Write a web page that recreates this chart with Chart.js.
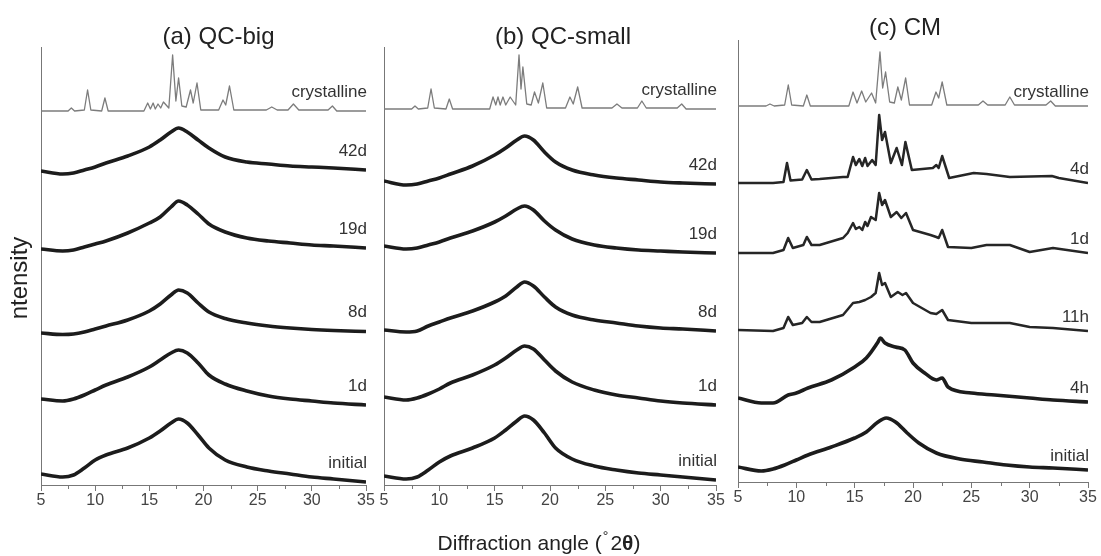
<!DOCTYPE html>
<html>
<head>
<meta charset="utf-8">
<title>XRD patterns</title>
<script src="https://cdn.jsdelivr.net/npm/chart.js@4.4.1/dist/chart.umd.min.js"></script>
<style>
  body { margin: 0; background: #fff; width: 1101px; height: 556px; position: relative; overflow: hidden; }
  canvas { position: absolute; top: 0; }
</style>
</head>
<body>
<canvas id="panel-a" width="376" height="556" style="left:0px"></canvas>
<canvas id="panel-b" width="383" height="556" style="left:343px"></canvas>
<canvas id="panel-c" width="404" height="556" style="left:697px"></canvas>
<script>
// angles (°2θ) where the amorphous humps were read
const anglesHump = [5, 7, 8, 9, 10, 11, 13, 15, 16, 17, 17.7, 18.5, 19.5, 20.5, 22, 24, 26, 28, 30, 32, 35];

// (a) QC-big
const qcBigCrystX = [5, 7.5, 7.8, 8.1, 9.0, 9.3, 9.6, 10.6, 10.9, 11.2, 14.5, 14.85, 15.1, 15.35, 15.55, 15.8, 16.05, 16.3, 16.8, 17.15, 17.45, 17.7, 18.0, 18.4, 18.8, 19.05, 19.4, 19.75, 21.4, 21.8, 22.05, 22.4, 22.8, 25.8, 26.3, 26.8, 27.8, 28.3, 28.8, 31.5, 31.9, 32.3, 35];
const qcBigCrystY = [0, 0, 3, 0, 1, 21, 1, 0, 13, 0, 0, 8, 2, 8, 2, 7, 3, 9, 3, 56, 10, 33, 5, 4, 21, 8, 28, 1, 1, 11, 6, 25, 1, 1, 4, 1, 1, 7, 1, 1, 5, 0, 0];
const qcBig42d = [3, 0, 1, 4, 7, 11, 18, 27, 34, 42, 46, 42, 34, 26, 17, 12, 10, 8, 7, 6, 4];
const qcBig19d = [2, 0, 1, 4, 7, 10, 18, 28, 34, 44, 50, 46, 37, 27, 19, 13, 10, 8, 6, 5, 3];
const qcBig8d = [2, 0.5, 1, 3, 6, 9, 15, 24, 31, 40, 45, 42, 32, 23, 16.5, 12, 9, 7, 5.5, 4.5, 3.5];
const qcBig1d = [6, 4, 6, 10, 15, 20, 28, 38, 45, 52, 55, 52, 42, 30, 21, 14, 9, 6, 4, 2, 0];
const qcBigInitial = [8, 5, 7, 14, 22, 27, 34, 44, 51, 59, 63, 59, 47, 34, 22, 15, 11, 8, 5, 3, 0];
const qcBigOffsets = [374, 311, 234, 150, 80, 3];
const qcBigLabels = ['crystalline', '42d', '19d', '8d', '1d', 'initial'];

// (b) QC-small
const qcSmallCrystX = [5, 7.5, 7.8, 8.1, 8.95, 9.25, 9.55, 10.6, 10.9, 11.2, 14.55, 14.85, 15.1, 15.3, 15.5, 15.75, 16.0, 16.4, 16.9, 17.2, 17.38, 17.55, 17.9, 18.3, 18.6, 18.95, 19.35, 19.7, 21.4, 21.8, 22.1, 22.5, 22.9, 25.6, 26.05, 26.5, 27.9, 28.3, 28.7, 31.5, 31.9, 32.3, 35];
const qcSmallCrystY = [0, 0, 3, 0, 1, 20, 1, 0, 10, 0, 0, 12, 4, 12, 4, 12, 4, 12, 4, 54, 20, 42, 5, 4, 17, 6, 26, 1, 1, 12, 5, 22, 1, 1, 5, 1, 1, 8, 1, 1, 5, 0, 0];
const qcSmall42d = [4, 0, 1, 4, 7, 11, 19, 30, 37, 45, 49, 45, 33, 23, 15, 10, 7, 5, 3, 2, 1];
const qcSmall19d = [7, 4, 5, 8, 11, 15, 22, 31, 37, 44, 47, 43, 32, 23, 14, 8, 5, 3, 2, 1, 0];
const qcSmall8d = [2, 0, 1, 6, 10, 14, 21, 30, 36, 45, 50, 46, 35, 25, 17, 12, 9, 6, 4, 3, 1];
const qcSmall1d = [8, 5, 7, 11, 16, 22, 30, 40, 47, 55, 59, 56, 45, 34, 23, 15, 10, 7, 4, 2, 0];
const qcSmallInitial = [4, 1, 3, 10, 18, 24, 32, 42, 50, 59, 64, 60, 47, 32, 21, 14, 10, 7, 5, 3, 0];
const qcSmallOffsets = [376, 300, 232, 153, 80, 5];
const qcSmallLabels = ['crystalline', '42d', '19d', '8d', '1d', 'initial'];

// (c) CM
const cmCrystX = [5, 7.4, 7.74, 8.1, 9.0, 9.31, 9.6, 10.6, 10.9, 11.2, 14.5, 14.86, 15.2, 15.6, 15.95, 16.45, 16.8, 17.17, 17.4, 17.65, 18.0, 18.4, 18.7, 19.0, 19.37, 19.7, 21.6, 21.97, 22.2, 22.5, 22.9, 25.6, 26.0, 26.4, 27.9, 28.3, 28.7, 31.4, 31.8, 32.2, 35];
const cmCrystY = [0, 0, 2, 0, 1, 21, 1, 0, 11, 0, 0, 14, 3, 15, 4, 13, 3, 54, 18, 34, 4, 3, 19, 6, 28, 1, 1, 14, 8, 24, 1, 1, 5, 1, 1, 9, 1, 1, 5, 0, 0];
const cm4dX = [5, 8, 8.9, 9.2, 9.5, 10.5, 10.9, 11.3, 12, 14, 14.4, 14.86, 15.1, 15.4, 15.65, 15.9, 16.1, 16.5, 16.8, 17.1, 17.35, 17.6, 18.1, 18.6, 19.05, 19.35, 19.9, 21.7, 22.0, 22.2, 22.5, 23.1, 25.2, 26.3, 28.3, 31.9, 32.5, 35];
const cm4dY = [0, 0, 1, 20, 2.5, 3.5, 13, 3.5, 4, 6, 6, 26, 18, 24, 17, 25, 17, 23, 18, 68, 43, 51, 20, 35, 18, 41, 13, 15, 18, 15, 27, 5, 10, 9, 6, 7, 5, 0];
const cm1dX = [5, 8, 8.9, 9.3, 9.7, 10, 10.6, 10.9, 11.3, 12, 14, 14.4, 14.86, 15.1, 15.4, 15.65, 15.9, 16.1, 16.4, 16.8, 17.1, 17.35, 17.6, 18.1, 18.6, 19.0, 19.4, 20, 21.5, 22.0, 22.2, 22.5, 23, 25, 26.3, 28.3, 30, 32, 35];
const cm1dY = [0, 0, 3, 15, 5, 6, 8, 16, 8, 8, 15, 20, 30, 24, 26, 23, 31, 27, 36, 33, 60, 48, 53, 36, 41, 35, 40, 23, 18, 16, 15, 23, 6, 5, 8, 8, 1, 5, 0];
const cm11hX = [5, 8, 8.9, 9.3, 9.7, 10.5, 10.9, 11.3, 12, 14, 14.86, 15.4, 15.9, 16.4, 16.8, 17.1, 17.35, 17.6, 18.1, 18.7, 19.1, 19.4, 20, 21.5, 22.0, 22.5, 23, 25, 26.3, 28.3, 30, 32, 35];
const cm11hY = [1, 0, 3, 14, 6, 8, 14, 9, 9, 16, 28, 29, 31, 34, 38, 58, 46, 48, 34, 39, 36, 38, 28, 18, 17, 21, 11, 8, 8, 8, 4, 3, 0];
const cm4hX = [5, 7, 8, 9.3, 10, 11, 13, 15, 16, 17, 17.2, 17.6, 18.5, 19.3, 20, 21, 22, 22.5, 23, 25, 27, 30, 32, 35];
const cm4hY = [5, 0, 0, 8, 10, 15, 23, 36, 45, 61, 65, 60, 56, 53, 40, 30, 23, 25, 16, 10, 8, 5, 3, 1];
const cmInitial = [4, 0, 2, 6, 11, 16, 24, 33, 39, 49, 53, 49, 38, 28, 18, 12, 9, 6, 4, 3, 1];
const cmOffsets = [376, 299, 229, 151, 79, 11];
const cmLabels = ['crystalline', '4d', '1d', '11h', '4h', 'initial'];

const FONT = '"Liberation Sans", Arial, Helvetica, sans-serif';

function toPoints(xs, ys, offset) {
  return xs.map((x, i) => ({ x: x, y: offset + ys[i] }));
}

// 线条样式: crystalline 细灰线, 宽峰 粗黑线
function trace(label, xs, ys, offset, kind) {
  const styles = {
    cryst: { color: '#7c7c7c', width: 1.3, tension: 0 },
    peaky: { color: '#262626', width: 2.5, tension: 0 },
    hump: { color: '#1c1c1c', width: 3.6, tension: 0.4 }
  };
  const s = styles[kind];
  return {
    label: label,
    data: toPoints(xs, ys, offset),
    showLine: true,
    pointRadius: 0,
    borderColor: s.color,
    borderWidth: s.width,
    tension: s.tension,
    cubicInterpolationMode: kind === 'hump' ? 'monotone' : 'default',
    borderJoinStyle: 'round'
  };
}

// texts, minor ticks and axis titles
const panelText = {
  id: 'panelText',
  afterDraw(chart, args, opts) {
    const { ctx, chartArea, scales } = chart;
    ctx.save();
    ctx.fillStyle = '#222';
    ctx.font = '24px ' + FONT;
    ctx.textAlign = 'center';
    ctx.textBaseline = 'middle';
    ctx.fillText(opts.title, (chartArea.left + chartArea.right) / 2 + opts.titleDx, chartArea.top - opts.titleDy);

    ctx.font = '17px ' + FONT;
    ctx.textAlign = 'right';
    ctx.fillStyle = '#333';
    chart.data.datasets.forEach(ds => {
      const last = ds.data[ds.data.length - 1];
      ctx.fillText(ds.label, chartArea.right + 1, scales.y.getPixelForValue(last.y) - opts.labelDy);
    });

    ctx.strokeStyle = '#777';
    ctx.lineWidth = 1;
    for (let v = 7.5; v < 35; v += 5) {
      const px = Math.round(scales.x.getPixelForValue(v)) + 0.5;
      ctx.beginPath();
      ctx.moveTo(px, chartArea.bottom);
      ctx.lineTo(px, chartArea.bottom + 4);
      ctx.stroke();
    }

    if (opts.yTitle) {
      ctx.save();
      ctx.translate(27, 278);
      ctx.rotate(-Math.PI / 2);
      ctx.font = '24px ' + FONT;
      ctx.textAlign = 'center';
      ctx.textBaseline = 'alphabetic';
      ctx.fillStyle = '#222';
      ctx.fillText(opts.yTitle, 0, 0);
      ctx.restore();
    }

    if (opts.xTitle) {
      const parts = [
        ['Diffraction angle (', '21px ' + FONT, 0],
        ['°', '14px ' + FONT, -9],
        ['2', '21px ' + FONT, 0],
        ['θ', 'bold 21px ' + FONT, 0],
        [')', '21px ' + FONT, 0]
      ];
      let total = 0;
      parts.forEach(p => { ctx.font = p[1]; total += ctx.measureText(p[0]).width + (p[0] === '°' ? 3 : 0); });
      let x = opts.xTitleX - total / 2;
      ctx.textAlign = 'left';
      ctx.textBaseline = 'alphabetic';
      ctx.fillStyle = '#222';
      parts.forEach(p => {
        ctx.font = p[1];
        ctx.fillText(p[0], x + (p[0] === '°' ? 1 : 0), opts.xTitleY + p[2]);
        x += ctx.measureText(p[0]).width + (p[0] === '°' ? 3 : 0);
      });
    }
    ctx.restore();
  }
};

function makePanel(id, datasets, yMax, pad, textOpts) {
  const ctx = document.getElementById(id).getContext('2d');
  return new Chart(ctx, {
    type: 'scatter',
    data: { datasets: datasets },
    options: {
      responsive: false,
      animation: false,
      layout: { padding: pad },
      plugins: {
        legend: { display: false },
        tooltip: { enabled: false },
        panelText: textOpts
      },
      scales: {
        x: {
          type: 'linear',
          min: 5,
          max: 35,
          afterFit: s => { s.height = 30; },
          grid: { drawOnChartArea: false, drawTicks: true, tickLength: 6, color: '#777' },
          border: { display: true, color: '#777', width: 1 },
          ticks: {
            stepSize: 5,
            padding: 0,
            maxRotation: 0,
            autoSkip: false,
            color: '#444',
            font: { size: 16, family: FONT }
          }
        },
        y: {
          type: 'linear',
          min: 0,
          max: yMax,
          afterFit: s => { s.width = 0; },
          grid: { display: false },
          border: { display: true, color: '#777', width: 1 },
          ticks: { display: false }
        }
      }
    },
    plugins: [panelText]
  });
}

// (a)
makePanel('panel-a', [
  trace(qcBigLabels[0], qcBigCrystX, qcBigCrystY, qcBigOffsets[0], 'cryst'),
  trace(qcBigLabels[1], anglesHump, qcBig42d, qcBigOffsets[1], 'hump'),
  trace(qcBigLabels[2], anglesHump, qcBig19d, qcBigOffsets[2], 'hump'),
  trace(qcBigLabels[3], anglesHump, qcBig8d, qcBigOffsets[3], 'hump'),
  trace(qcBigLabels[4], anglesHump, qcBig1d, qcBigOffsets[4], 'hump'),
  trace(qcBigLabels[5], anglesHump, qcBigInitial, qcBigOffsets[5], 'hump')
], 438, { left: 41, right: 10, top: 47, bottom: 41 },
  { title: '(a) QC-big', titleDx: 15, titleDy: 10, labelDy: 19, yTitle: 'ntensity' });

// (b)
makePanel('panel-b', [
  trace(qcSmallLabels[0], qcSmallCrystX, qcSmallCrystY, qcSmallOffsets[0], 'cryst'),
  trace(qcSmallLabels[1], anglesHump, qcSmall42d, qcSmallOffsets[1], 'hump'),
  trace(qcSmallLabels[2], anglesHump, qcSmall19d, qcSmallOffsets[2], 'hump'),
  trace(qcSmallLabels[3], anglesHump, qcSmall8d, qcSmallOffsets[3], 'hump'),
  trace(qcSmallLabels[4], anglesHump, qcSmall1d, qcSmallOffsets[4], 'hump'),
  trace(qcSmallLabels[5], anglesHump, qcSmallInitial, qcSmallOffsets[5], 'hump')
], 438, { left: 41, right: 10, top: 47, bottom: 41 },
  { title: '(b) QC-small', titleDx: 13, titleDy: 10, labelDy: 19, xTitle: true, xTitleX: 196, xTitleY: 550 });

// (c)
makePanel('panel-c', [
  trace(cmLabels[0], cmCrystX, cmCrystY, cmOffsets[0], 'cryst'),
  trace(cmLabels[1], cm4dX, cm4dY, cmOffsets[1], 'peaky'),
  trace(cmLabels[2], cm1dX, cm1dY, cmOffsets[2], 'peaky'),
  trace(cmLabels[3], cm11hX, cm11hY, cmOffsets[3], 'peaky'),
  trace(cmLabels[4], cm4hX, cm4hY, cmOffsets[4], 'hump'),
  trace(cmLabels[5], anglesHump, cmInitial, cmOffsets[5], 'hump')
], 442, { left: 41, right: 13, top: 40, bottom: 44 },
  { title: '(c) CM', titleDx: -8, titleDy: 12, labelDy: 14 });
</script>
</body>
</html>
